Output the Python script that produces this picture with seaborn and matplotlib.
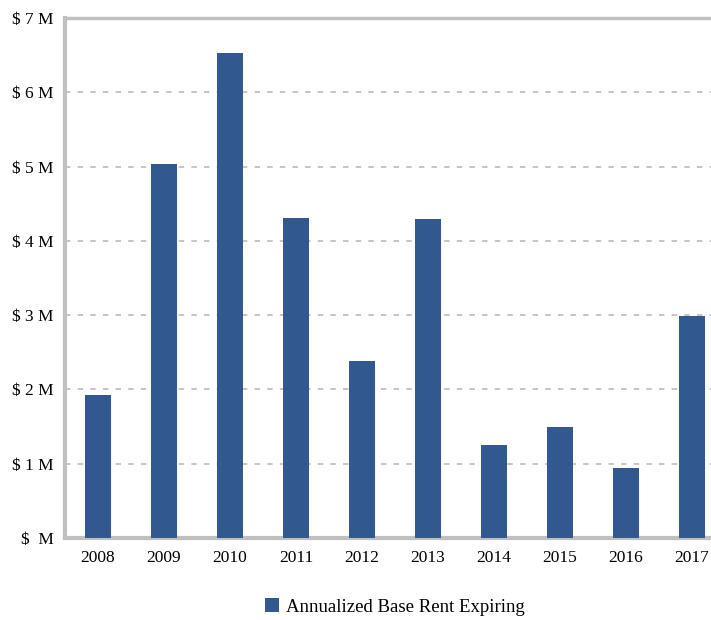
import matplotlib
matplotlib.use("Agg")
import matplotlib.pyplot as plt
import seaborn as sns
import pandas as pd
from matplotlib.patches import Patch

years = ["2008", "2009", "2010", "2011", "2012", "2013", "2014", "2015", "2016", "2017"]
rent_millions = [1.92, 5.04, 6.53, 4.31, 2.38, 4.29, 1.25, 1.49, 0.94, 2.99]
y_ticks = [0, 1, 2, 3, 4, 5, 6, 7]
y_labels = ["$  M", "$ 1 M", "$ 2 M", "$ 3 M", "$ 4 M", "$ 5 M", "$ 6 M", "$ 7 M"]
series_name = "Annualized Base Rent Expiring"

df = pd.DataFrame({"year": years, "rent": rent_millions})

sns.set_style("white")
plt.rcParams["font.family"] = ["Liberation Serif", "DejaVu Serif"]

bar_color = "#32598F"
grey = "#C0C0C0"

fig = plt.figure(figsize=(7.11, 6.2), dpi=100)
left_px, right_px = 65, 711
ax = fig.add_axes([left_px / 711, 1 - 538 / 620, (right_px - left_px) / 711, (538 - 18) / 620])

sns.barplot(data=df, x="year", y="rent", color=bar_color, width=0.4,
            saturation=1, linewidth=0, edgecolor="none", ax=ax, zorder=3)

ax.set_ylim(0, 7)
ax.set_yticks(y_ticks)
ax.set_yticklabels(y_labels, fontsize=12.5, color="black")
ax.set_xlabel("")
ax.set_ylabel("")
ax.tick_params(axis="x", which="major", length=0, labelsize=12.5, labelcolor="black", pad=9)
ax.set_xticks([i + 0.5 for i in range(len(years) - 1)], minor=True)
ax.tick_params(axis="x", which="minor", length=5, width=2, color=grey, direction="out")
ax.tick_params(axis="y", length=7, width=1.5, color=grey, pad=1)
# each category band is 66 px wide; the last band runs past the figure edge
ax.set_xlim(-0.5, -0.5 + (right_px - left_px) / 66)

for y in y_ticks[1:-1]:
    ax.axhline(y, color=grey, lw=1.3, ls=(0, (3, 4)), zorder=1)

for side in ["left", "bottom"]:
    ax.spines[side].set_color(grey)
    ax.spines[side].set_linewidth(3)
ax.spines["top"].set_color(grey)
ax.spines["top"].set_linewidth(2.5)
ax.spines["right"].set_visible(False)

handle = Patch(facecolor=bar_color, edgecolor="none")
leg = fig.legend([handle], [series_name], loc="center",
                 bbox_to_anchor=(395 / 711, 1 - 607 / 620), frameon=False,
                 fontsize=13.5, handlelength=0.75, handleheight=0.75, handletextpad=0.4)
for t in leg.get_texts():
    t.set_color("black")

fig.savefig("out.png", dpi=100)
